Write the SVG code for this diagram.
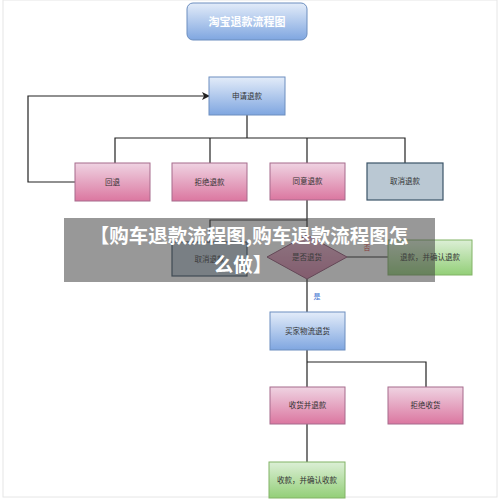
<svg xmlns="http://www.w3.org/2000/svg" width="500" height="501" viewBox="0 0 500 501">
<defs>
<linearGradient id="gBlue" x1="0" y1="0" x2="0" y2="1"><stop offset="0" stop-color="#e3ecf9"/><stop offset="1" stop-color="#7fa6e0"/></linearGradient>
<linearGradient id="gPink" x1="0" y1="0" x2="0" y2="1"><stop offset="0" stop-color="#efd3e2"/><stop offset="1" stop-color="#db77a0"/></linearGradient>
<linearGradient id="gGreen" x1="0" y1="0" x2="0" y2="1"><stop offset="0" stop-color="#dcefd6"/><stop offset="1" stop-color="#93cf78"/></linearGradient>
<linearGradient id="gDia" x1="0" y1="0" x2="0" y2="1"><stop offset="0" stop-color="#e8b4cc"/><stop offset="1" stop-color="#d07aa2"/></linearGradient>
<marker id="arr" markerWidth="8" markerHeight="8" refX="7" refY="4" orient="auto" markerUnits="userSpaceOnUse"><path d="M0,0 L8,4 L0,8 L2,4 Z" fill="#222"/></marker>
</defs>
<style>
.blue{fill:url(#gBlue);stroke:#6c8ebf;stroke-width:1}
.pink{fill:url(#gPink);stroke:#a66b8c;stroke-width:1}
.green{fill:url(#gGreen);stroke:#82b366;stroke-width:1}
.grey{fill:#bac8d3;stroke:#3b5468;stroke-width:1.2}
.lbl{font-family:"Noto Sans CJK SC","Noto Sans",sans-serif;font-size:7.5px;fill:#333;text-anchor:middle}
.conn{fill:none;stroke:#222;stroke-width:1.2}
</style>
<rect x="0" y="0" width="500" height="501" fill="#ffffff"/>
<rect x="3" y="0" width="494" height="497" fill="none" stroke="#e6e6e6" stroke-width="1"/>
<g id="connectors">
<path class="conn" d="M247,115 V138"/>
<path class="conn" d="M115,163 V138 H405 V163"/>
<path class="conn" d="M210,138 V163"/>
<path class="conn" d="M307,138 V163"/>
<path class="conn" d="M75,182 H28 V96 H209" marker-end="url(#arr)"/>
<path class="conn" d="M307,200 V236"/>
<path class="conn" d="M307,220 H210 V242"/>
<path class="conn" d="M347,257 H388"/>
<path class="conn" d="M307,279 V312"/>
<path class="conn" d="M307,350 V387"/>
<path class="conn" d="M307,362 H426 V387"/>
<path class="conn" d="M307,424 V462"/>
<text x="367" y="250" font-family="Noto Sans CJK SC,sans-serif" font-size="7px" fill="#d83030" text-anchor="middle">否</text>
<text x="317" y="299" font-family="Noto Sans CJK SC,sans-serif" font-size="7px" fill="#3a6fd0" text-anchor="middle">是</text>
</g>
<g id="title"><rect x="187" y="3" width="120" height="37" rx="6" class="blue"/><text x="247" y="25.5" font-family="Noto Sans CJK SC,sans-serif" font-size="11px" font-weight="bold" fill="#ffffff" text-anchor="middle">淘宝退款流程图</text></g>
<g id="apply"><rect x="209" y="77" width="76" height="38" class="blue"/><text class="lbl" x="247" y="98.5">申请退款</text></g>
<g id="back"><rect x="75" y="163" width="75" height="38" class="pink"/><text class="lbl" x="112.5" y="184.5">回退</text></g>
<g id="refuse"><rect x="172" y="163" width="75" height="38" class="pink"/><text class="lbl" x="209.5" y="184.5">拒绝退款</text></g>
<g id="agree"><rect x="270" y="163" width="75" height="37" class="pink"/><text class="lbl" x="307.5" y="184">同意退款</text></g>
<g id="cancel1"><rect x="367" y="163" width="76" height="37" class="grey"/><text class="lbl" x="405" y="184">取消退款</text></g>
<g id="cancel2"><rect x="172" y="242" width="75" height="34" class="grey"/><text class="lbl" x="209.5" y="261.5">取消退款</text></g>
<g id="decision"><path d="M307,235 L347,257 L307,279 L267,257 Z" fill="url(#gDia)" stroke="#8a4d6e" stroke-width="1"/><text class="lbl" x="307" y="260">是否退货</text></g>
<g id="refundok"><rect x="388" y="240" width="84" height="35" class="green"/><text class="lbl" x="430" y="260">退款，并确认退款</text></g>
<g id="buyerreturn"><rect x="270" y="312" width="75" height="38" class="blue"/><text class="lbl" x="307.5" y="333.5">买家物流退货</text></g>
<g id="receive"><rect x="270" y="387" width="75" height="37" class="pink"/><text class="lbl" x="307.5" y="408">收货并退款</text></g>
<g id="reject"><rect x="388" y="387" width="75" height="37" class="pink"/><text class="lbl" x="425.5" y="408">拒绝收货</text></g>
<g id="done"><rect x="269" y="462" width="76" height="36" class="green"/><text class="lbl" x="307" y="482.5">收款，并确认收款</text></g>
<g id="overlay">
<rect x="64" y="218" width="371" height="64" fill="#444444" fill-opacity="0.55"/>
<text x="249" y="243" font-family="Noto Sans CJK SC,sans-serif" font-size="19.5px" font-weight="bold" fill="#ffffff" text-anchor="middle">【购车退款流程图,购车退款流程图怎</text>
<text x="243" y="272" font-family="Noto Sans CJK SC,sans-serif" font-size="19.5px" font-weight="bold" fill="#ffffff" text-anchor="middle">么做】</text>
</g>
</svg>
